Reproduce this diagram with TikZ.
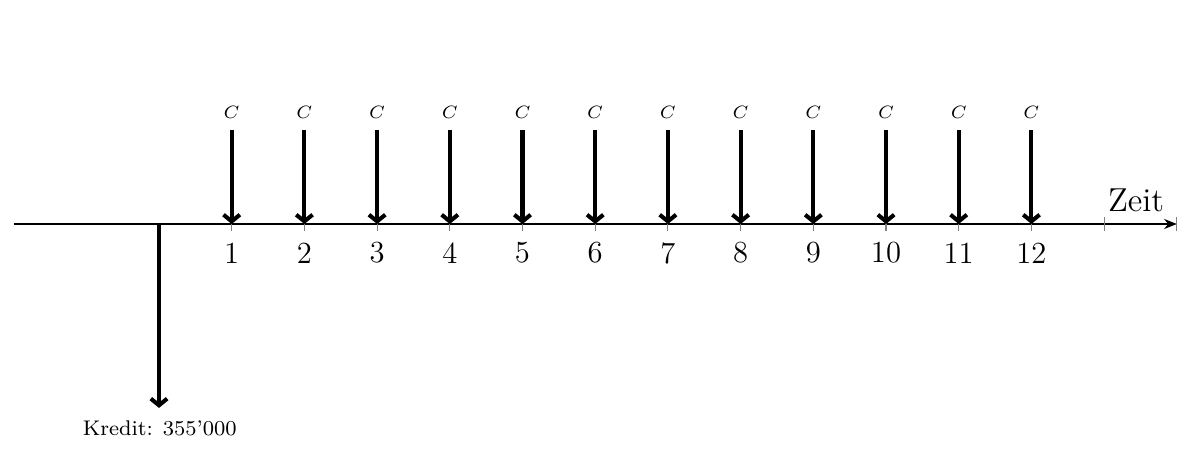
\documentclass[tikz,border=0pt]{standalone}
\usetikzlibrary{arrows.meta}
\begin{document}
\begin{tikzpicture}[x=1cm,y=1cm,
  axisline/.style={line width=0.45pt,-{Stealth[length=5pt,width=4pt]}},
  tickmark/.style={gray,line width=0.4pt},
  flowarrow/.style={line width=1.6pt,-{Straight Barb[length=2.6pt,width=6.4pt]}},
  ticklabel/.style={font=\large,inner sep=0pt},
  clabel/.style={font=\scriptsize,inner sep=0pt},
  kreditlabel/.style={font=\fontsize{8.3}{10}\selectfont,inner sep=0pt}]
\useasboundingbox (-2.187,-3.150) rectangle (14.154,3.081);
\coordinate (start) at (-2,0);
\coordinate (end) at (14,0);
\draw[axisline] (start) -- (end);
\foreach \i in {1,...,14}{
  \draw[tickmark] (\i,-0.1) -- (\i,0.1);
}
\coordinate (t0) at (0,0.02);
\coordinate (k0) at (0,-2.53);
\draw[flowarrow] (t0) -- (k0);
\node[kreditlabel] (kredit) at (0.01,-2.81) {Kredit: 355'000};
\foreach \i in {1,...,12}{
  \coordinate (t\i) at (\i,0);
  \coordinate (c\i) at (\i,1.29);
  \draw[flowarrow] (c\i) -- (t\i);
  \node[clabel] (cl\i) at (\i,1.54) {$C$};
  \node[ticklabel] (n\i) at (\i,-0.40) {\i};
}
\node[font=\fontsize{13}{15}\selectfont,inner sep=0pt] (zeit) at (13.44,0.32) {Zeit};
\end{tikzpicture}
\end{document}
